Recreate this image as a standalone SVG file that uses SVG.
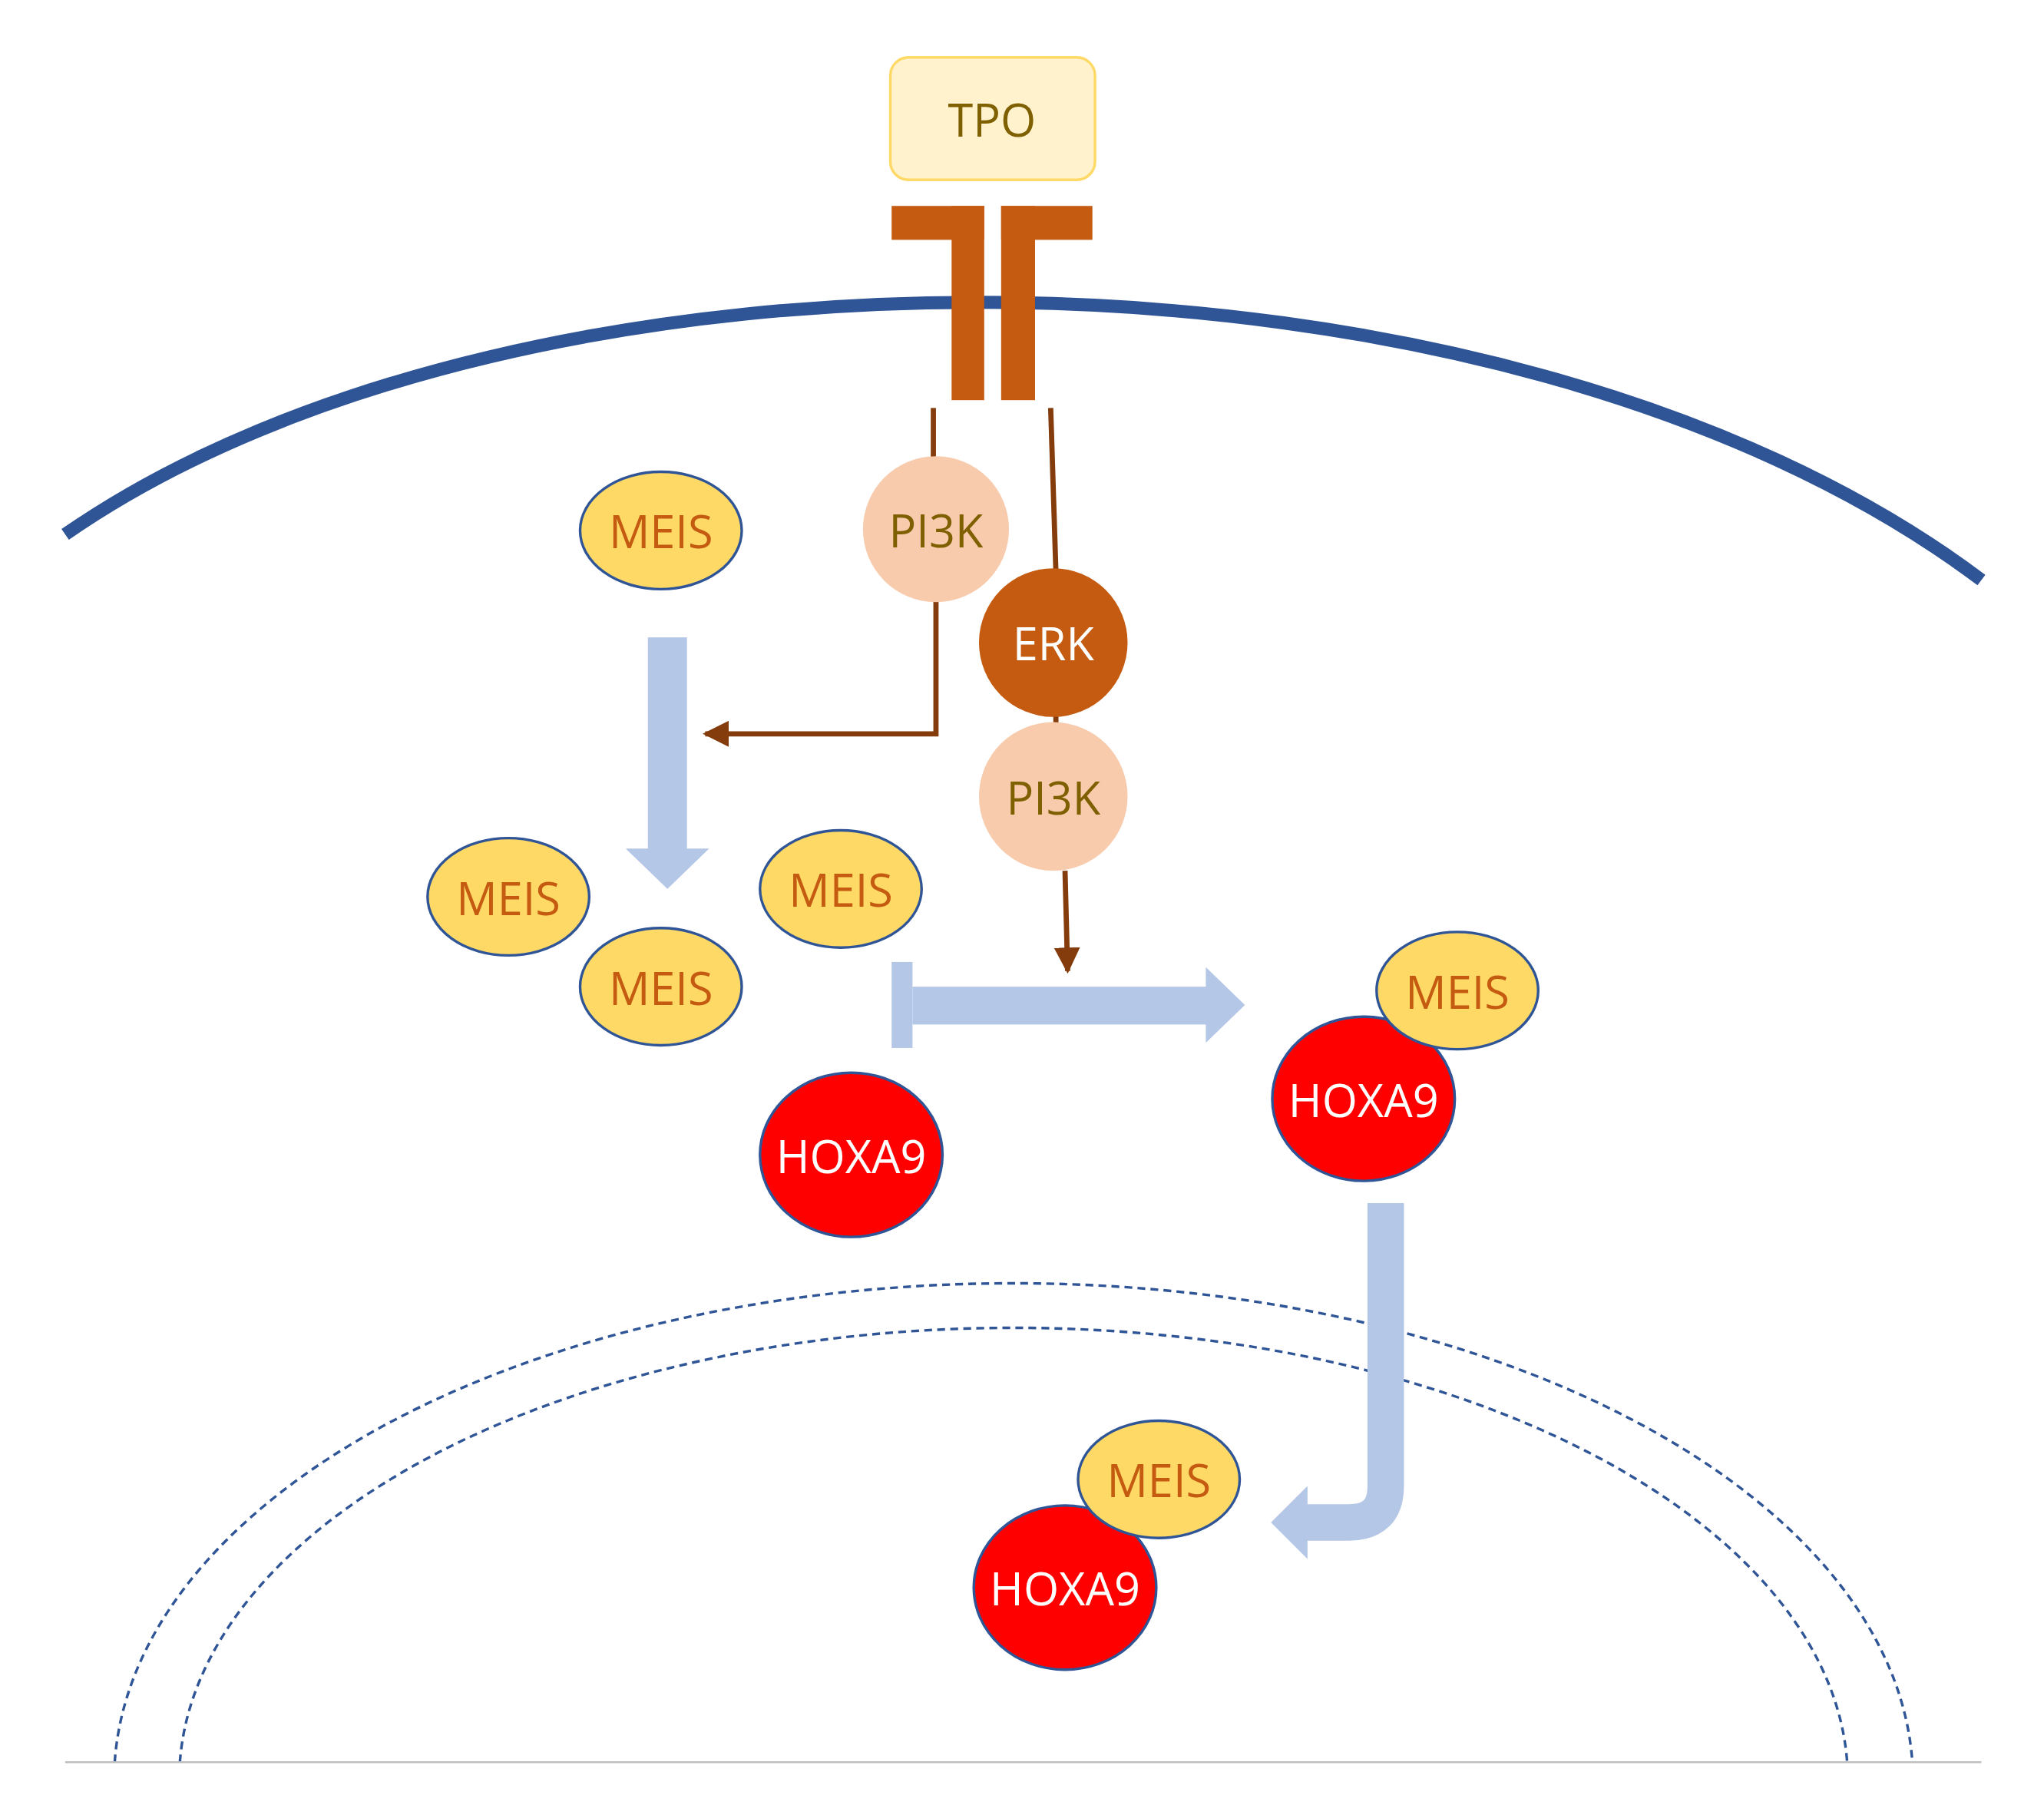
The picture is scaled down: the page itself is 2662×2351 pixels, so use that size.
<svg xmlns="http://www.w3.org/2000/svg" width="2662" height="2351" viewBox="0 0 2662 2351">
<style>
.t{font-family:"Open Sans","Liberation Sans",sans-serif;font-size:35px;text-anchor:middle;dominant-baseline:central}
.meis ellipse{fill:#FFD966;stroke:#2F5597;stroke-width:2}
.meis text{fill:#C55A11}
.hox ellipse{fill:#FF0000;stroke:#2F5597;stroke-width:2}
.hox text{fill:#fff}
.pi circle{fill:#F8CBAD}
.pi text{fill:#7F6000}
.br{stroke:#843C0C;stroke-width:4;fill:none}
</style>
<defs>
<marker id="ah" viewBox="0 0 10 10" refX="9" refY="5" markerWidth="5" markerHeight="5" orient="auto"><path d="M0,0L10,5L0,10z" fill="#843C0C"/></marker>
</defs>
<rect width="2662" height="2351" fill="#fff"/>
<g transform="scale(1.6977)">
<g id="membrane"><path d="M50,410 C400,167 1150,167 1520,445" fill="none" stroke="#2F5597" stroke-width="10"/></g>
<g id="nucleus" fill="none" stroke="#2F5597" stroke-width="2" stroke-dasharray="6,4">
<path d="M88,1352 A690,382 0 0 1 1467,1352"/>
<path d="M138,1352 A640,347 0 0 1 1417,1352"/>
</g>
<line x1="50" y1="1352" x2="1520" y2="1352" stroke="#BFBFBF" stroke-width="1.5"/>
<g id="tpo"><rect x="683" y="44" width="157" height="94" rx="14" fill="#FFF2CC" stroke="#FFD966" stroke-width="2"/><text class="t" x="761" y="91" fill="#7F6000">TPO</text></g>
<g id="receptor" fill="#C55A11">
<rect x="684" y="158" width="71" height="26"/><rect x="730" y="158" width="25" height="149"/>
<rect x="768" y="158" width="70" height="26"/><rect x="768" y="158" width="26" height="149"/>
</g>
<g id="connectors">
<path class="br" d="M716,313 V352"/>
<path class="br" d="M718,460 V563 H541" marker-end="url(#ah)"/>
<path class="br" d="M806,313 L810,438"/>
<path class="br" d="M810,548 V556"/>
<path class="br" d="M817,668 L819,745" marker-end="url(#ah)"/>
<g fill="#B4C7E7">
<rect x="497" y="489" width="30" height="163"/><polygon points="480,651 544,651 512,682"/>
<rect x="684" y="738" width="16" height="66"/><rect x="700" y="757" width="227" height="29"/><polygon points="925,742 955,771 925,800"/>
<polygon points="975,1168 1003,1140 1003,1196"/>
</g>
<path d="M1063,923 V1140 Q1063,1168 1035,1168 H1000" fill="none" stroke="#B4C7E7" stroke-width="28"/>
</g>
<g id="pi3k1" class="pi"><circle cx="718" cy="406" r="56"/><text class="t" x="718" y="406">PI3K</text></g>
<g id="erk"><circle cx="808" cy="493" r="57" fill="#C55A11"/><text class="t" x="808" y="493" fill="#fff">ERK</text></g>
<g id="pi3k2" class="pi"><circle cx="808" cy="611" r="57"/><text class="t" x="808" y="611">PI3K</text></g>
<g id="meis1" class="meis"><ellipse cx="507" cy="407" rx="62" ry="45"/><text class="t" x="507" y="407">MEIS</text></g>
<g id="meis2" class="meis"><ellipse cx="390" cy="688" rx="62" ry="45"/><text class="t" x="390" y="688">MEIS</text></g>
<g id="meis3" class="meis"><ellipse cx="645" cy="682" rx="62" ry="45"/><text class="t" x="645" y="682">MEIS</text></g>
<g id="meis4" class="meis"><ellipse cx="507" cy="757" rx="62" ry="45"/><text class="t" x="507" y="757">MEIS</text></g>
<g id="hoxa9a" class="hox"><ellipse cx="653" cy="886" rx="70" ry="63"/><text class="t" x="653" y="886">HOXA9</text></g>
<g id="hoxa9b" class="hox"><ellipse cx="1046" cy="843" rx="70" ry="63"/><text class="t" x="1046" y="843">HOXA9</text></g>
<g id="meis5" class="meis"><ellipse cx="1118" cy="760" rx="62" ry="45"/><text class="t" x="1118" y="760">MEIS</text></g>
<g id="hoxa9c" class="hox"><ellipse cx="817" cy="1218" rx="70" ry="63"/><text class="t" x="817" y="1218">HOXA9</text></g>
<g id="meis6" class="meis"><ellipse cx="889" cy="1135" rx="62" ry="45"/><text class="t" x="889" y="1135">MEIS</text></g>
</g>
</svg>
